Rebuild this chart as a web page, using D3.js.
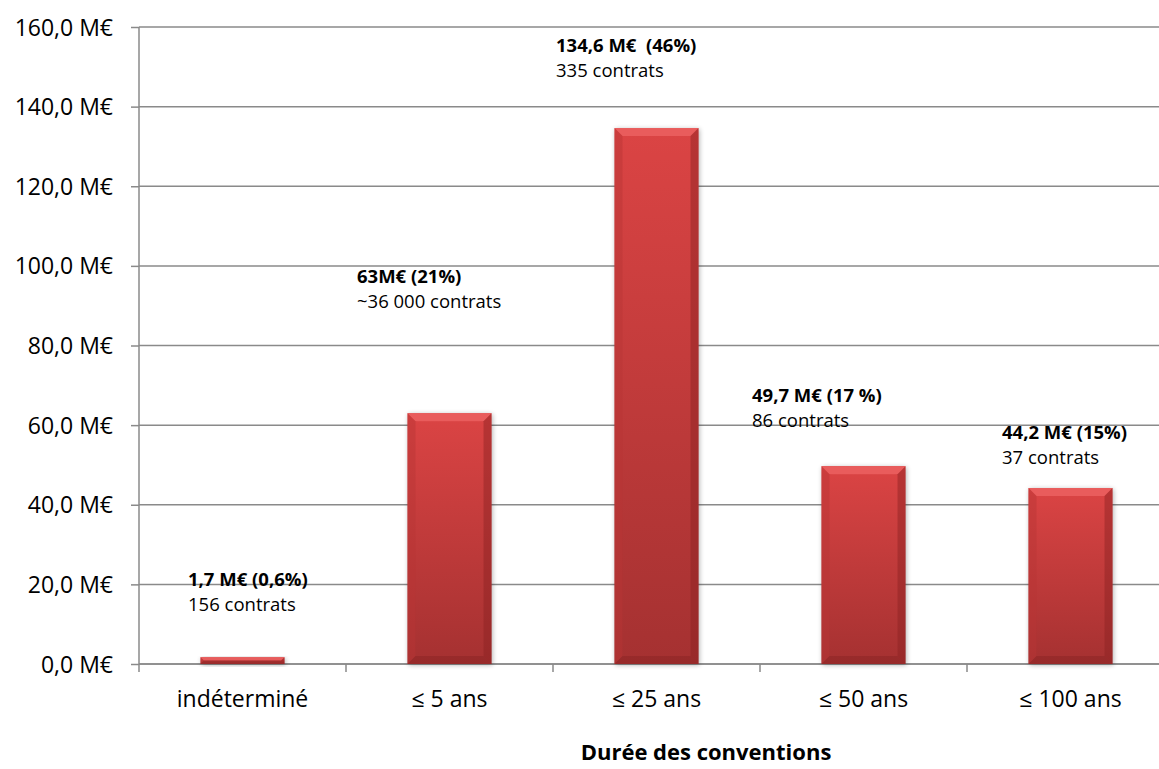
<!DOCTYPE html>
<html>
<head>
<meta charset="utf-8">
<script src="https://cdn.jsdelivr.net/npm/d3@7"></script>
<style>
  body { margin: 0; background: #fff; }
  text { font-family: "Open Sans", "Noto Sans", sans-serif; fill: #000; }
</style>
</head>
<body>
<div id="chart"></div>
<script>
const categories = ["indéterminé", "≤ 5 ans", "≤ 25 ans", "≤ 50 ans", "≤ 100 ans"];
const values = [1.7, 63, 134.6, 49.7, 44.2];
const labelMain = ["1,7 M€ (0,6%)", "63M€ (21%)", "134,6 M€  (46%)", "49,7 M€ (17 %)", "44,2 M€ (15%)"];
const labelSub = ["156 contrats", "~36 000 contrats", "335 contrats", "86 contrats", "37 contrats"];
const yTicks = [0, 20, 40, 60, 80, 100, 120, 140, 160];

// where each annotation sits: x offset from band start (px), baseline in data units
const labelLayout = [
  { dx: 49, v: 19.6 }, { dx: 11, v: 95.6 }, { dx: 3, v: 153.6 },
  { dx: -8, v: 65.8 }, { dx: 35, v: 56.6 }
];

const width = 1159, height = 769;
const margin = { top: 27, left: 139, bottom: 105 };
const bandW = 207;

const svg = d3.select("#chart").append("svg")
    .attr("width", width)
    .attr("height", height);

const x = d3.scaleBand()
    .domain(categories)
    .range([margin.left, margin.left + bandW * categories.length])
    .paddingInner(0.594)
    .paddingOuter(0.297);

const y = d3.scaleLinear()
    .domain([0, 160])
    .range([height - margin.bottom, margin.top]);

const defs = svg.append("defs");
const grad = defs.append("linearGradient")
    .attr("id", "barGrad").attr("x1", 0).attr("y1", 0).attr("x2", 0).attr("y2", 1);
grad.append("stop").attr("offset", "0%").attr("stop-color", "#db4444");
grad.append("stop").attr("offset", "100%").attr("stop-color", "#a53131");

const shadow = defs.append("filter").attr("id", "shadow")
    .attr("x", "-20%").attr("y", "-20%").attr("width", "140%").attr("height", "140%");
shadow.append("feGaussianBlur").attr("stdDeviation", 2.5);

// gridlines
svg.append("g")
    .selectAll("line")
    .data(yTicks)
    .join("line")
    .attr("x1", margin.left)
    .attr("x2", width)
    .attr("y1", d => y(d))
    .attr("y2", d => y(d))
    .attr("stroke", "#8a8a8a")
    .attr("stroke-width", 1.5);

// y axis
const yAxis = svg.append("g")
    .attr("transform", `translate(${margin.left},0)`)
    .call(d3.axisLeft(y).tickValues(yTicks).tickSize(8).tickPadding(18)
        .tickFormat(d => d3.format(".1f")(d).replace(".", ",") + " M€"));
yAxis.selectAll("line, path").attr("stroke", "#8a8a8a").attr("stroke-width", 1.5);
yAxis.select(".domain").attr("d", `M0,${y(0)}V${y(160)}`);
yAxis.selectAll("text").style("font-size", "23px").attr("dy", "0.35em");

// x axis
const xAxis = svg.append("g")
    .attr("transform", `translate(0,${y(0)})`);
xAxis.append("line")
    .attr("x1", margin.left).attr("x2", width)
    .attr("stroke", "#8a8a8a").attr("stroke-width", 1.5);
xAxis.selectAll(".tk")
    .data(d3.range(categories.length + 1))
    .join("line")
    .attr("class", "tk")
    .attr("x1", i => margin.left + i * bandW)
    .attr("x2", i => margin.left + i * bandW)
    .attr("y1", 0).attr("y2", 8)
    .attr("stroke", "#8a8a8a").attr("stroke-width", 1.5);
xAxis.selectAll(".lbl")
    .data(categories)
    .join("text")
    .attr("class", "lbl")
    .attr("x", d => x(d) + x.bandwidth() / 2)
    .attr("y", 43)
    .attr("text-anchor", "middle")
    .style("font-size", "23px")
    .text(d => d);

// bars with bevel
const bev = 8;
const bars = svg.append("g")
    .selectAll("g")
    .data(values)
    .join("g")
    .attr("transform", (d, i) => `translate(${x(categories[i])},${y(d)})`);

bars.each(function(d) {
  const g = d3.select(this);
  const w = x.bandwidth();
  const h = y(0) - y(d);
  const b = Math.min(bev, h / 2);
  g.append("rect").attr("x", 1).attr("y", 1).attr("width", w).attr("height", h)
      .attr("fill", "#000").attr("opacity", 0.3).attr("filter", "url(#shadow)");
  g.append("rect").attr("width", w).attr("height", h).attr("fill", "url(#barGrad)");
  g.append("path").attr("d", `M0,0H${w}L${w - b},${b}H${b}Z`).attr("fill", "#ea5f5f").attr("opacity", 0.9);
  g.append("path").attr("d", `M0,0L${b},${b}V${h - b}L0,${h}Z`).attr("fill", "#b83636").attr("opacity", 0.45);
  g.append("path").attr("d", `M${w},0L${w - b},${b}V${h - b}L${w},${h}Z`).attr("fill", "#8a2222").attr("opacity", 0.45);
  g.append("path").attr("d", `M0,${h}L${b},${h - b}H${w - b}L${w},${h}Z`).attr("fill", "#8a2424").attr("opacity", 0.5);
});

// annotations
const ann = svg.append("g")
    .selectAll("text")
    .data(values)
    .join("text")
    .attr("transform", (d, i) => `translate(${margin.left + i * bandW + labelLayout[i].dx},${y(labelLayout[i].v)})`)
    .style("font-size", "18.5px");
ann.append("tspan")
    .attr("x", 0)
    .style("font-weight", "bold")
    .style("white-space", "pre")
    .text((d, i) => labelMain[i]);
ann.append("tspan")
    .attr("x", 0)
    .attr("dy", 25)
    .text((d, i) => labelSub[i]);

// axis title
svg.append("text")
    .attr("x", 706)
    .attr("y", 760)
    .attr("text-anchor", "middle")
    .style("font-size", "22px")
    .style("font-weight", "bold")
    .text("Durée des conventions");
</script>
</body>
</html>
